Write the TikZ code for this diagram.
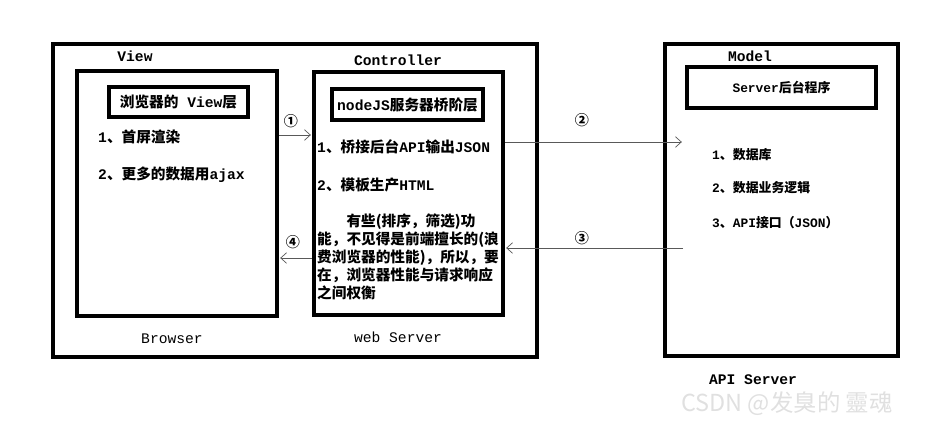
\documentclass[tikz,border=0pt]{standalone}
\usepackage{fontspec}
\setmainfont{Liberation Mono}
\newfontfamily\cjk{Noto Sans CJK SC}
\usetikzlibrary{arrows.meta}
\tikzset{>/.tip={Straight Barb[length=5pt,width=9pt]}}
\newcommand{\zh}[1]{{\cjk #1}}

\begin{document}
\begin{tikzpicture}[x=0.03cm, y=-0.03cm,
  frame/.style={draw, line width=3.4pt, inner sep=0pt},
  layer/.style={draw, line width=3.4pt, inner sep=0pt, font=\fontsize{12.5}{15}\selectfont\bfseries},
  title/.style={font=\fontsize{12.5}{15}\selectfont\bfseries},
  caption/.style={font=\fontsize{12.5}{15}\selectfont},
  item/.style={anchor=west, inner sep=0pt, font=\fontsize{12.5}{15}\selectfont\bfseries},
  small/.style={anchor=west, inner sep=0pt, font=\fontsize{11}{13}\selectfont\bfseries},
  flow/.style={->, draw=black!65, line width=0.6pt, shorten >=1pt},
  num/.style={font=\fontsize{12}{14}\selectfont\bfseries\cjk}]
\useasboundingbox (0,0) rectangle (925,420);

% browser side
\node[frame, minimum width=14.52cm, minimum height=9.39cm] (browser) at (295,200.5) {};
\node[frame, minimum width=6cm, minimum height=7.35cm] (viewbox) at (177,193.5) {};
\node[layer, minimum width=4.17cm, minimum height=0.9cm] (viewlayer) at (178.5,102) {\zh{浏览器的} View\zh{层}};
\node[title] (viewtitle) at (135,56) {View};
\node[item] (v1) at (98,137) {1\zh{、首屏渲染}};
\node[item] (v2) at (98,175) {2\zh{、更多的数据用}ajax};
\node[caption] (browsertitle) at (172,339) {Browser};

% web server
\node[frame, minimum width=5.67cm, minimum height=7.29cm] (ctrlbox) at (408.5,193.5) {};
\node[layer, minimum width=4.53cm, minimum height=0.93cm] (nodelayer) at (407.5,104.5) {nodeJS\zh{服务器桥阶层}};
\node[title] (ctrltitle) at (398,60) {Controller};
\node[item] (c1) at (317,147) {1\zh{、桥接后台}API\zh{输出}JSON};
\node[item] (c2) at (317,185) {2\zh{、模板生产}HTML};
\node[item, anchor=north west, align=left, font=\fontsize{12.5}{15.3}\selectfont\bfseries\cjk] (c3) at (317,214)
  {\hspace*{2em}有些(排序，筛选)功\\能，不见得是前端擅长的(浪\\费浏览器的性能)，所以，要\\在，浏览器性能与请求响应\\之间权衡};
\node[caption] (ctrlcaption) at (398,337) {web Server};

% api server
\node[frame, minimum width=6.99cm, minimum height=9.36cm] (apiserver) at (781.5,200) {};
\node[layer, minimum width=5.67cm, minimum height=1.23cm, font=\fontsize{11}{13}\selectfont\bfseries] (serverprog) at (781.5,87.5) {Server\zh{后台程序}};
\node[title] (modeltitle) at (750,56) {Model};
\node[small] (m1) at (712,155) {1\zh{、数据库}};
\node[small] (m2) at (712,188) {2\zh{、数据业务逻辑}};
\node[small] (m3) at (712,223) {3\zh{、}API\zh{接口（}JSON\zh{）}};
\node[title] (apititle) at (753,380) {API Server};

% requests
\coordinate (req) at (683,142);
\coordinate (resp) at (683,248);
\draw[flow] (viewbox.east |- 0,135) -- (ctrlbox.west |- 0,135);
\draw[flow] (ctrlbox.east |- 0,142) -- (req);
\draw[flow] (resp) -- (ctrlbox.east |- 0,248);
\draw[flow] (ctrlbox.west |- 0,258) -- (viewbox.east |- 0,258);
\node[num] (n1) at (291,121) {①};
\node[num] (n2) at (582,120) {②};
\node[num] (n3) at (582,238) {③};
\node[num] (n4) at (293,242) {④};

\node[text=black!12, font=\fontsize{20}{24}\selectfont\cjk] (mark) at (787,404) {CSDN @发臭的 靈魂};
\end{tikzpicture}
\end{document}
